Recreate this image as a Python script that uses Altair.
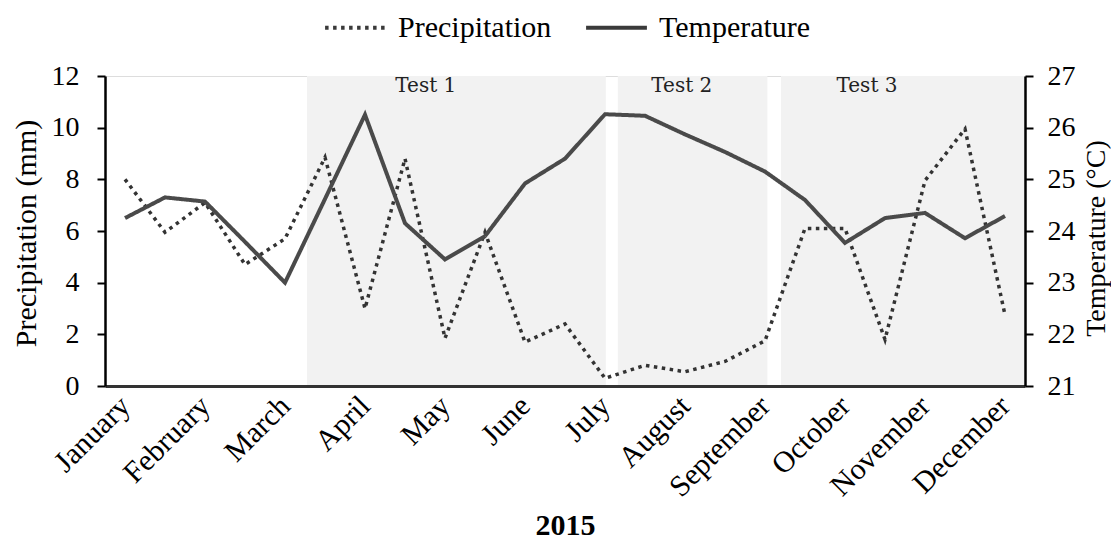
import altair as alt
import pandas as pd

months = ["January", "February", "March", "April", "May", "June", "July",
          "August", "September", "October", "November", "December"]

# half-month positions (0 = January, 1 = February, ...)
position = [0, 0.5, 1, 1.5, 2, 2.5, 3, 3.5, 4, 4.5, 5, 5.5, 6, 6.5, 7, 7.5,
            8, 8.5, 9, 9.5, 10, 10.5, 11]
precipitation = [8.0, 5.95, 7.1, 4.7, 5.7, 8.85, 3.0, 8.8, 1.85, 5.95, 1.7, 2.4,
                 0.3, 0.8, 0.55, 0.95, 1.75, 6.1, 6.1, 1.8, 7.95, 9.95, 2.75]
temperature = [24.25, 24.65, 24.57, 23.79, 23.0, 24.62, 26.25, 24.15, 23.45, 23.9,
               24.92, 25.4, 26.26, 26.23, 25.87, 25.53, 25.15, 24.6, 23.77, 24.25,
               24.35, 23.86, 24.29]

test_names = ["Test 1", "Test 2", "Test 3"]
test_start = [2.275, 6.16, 8.2]
test_end = [6.01, 8.03, 11.25]
test_label_x = [3.76, 6.96, 9.275]
shade_bottom = [0, 0, 0]
shade_top = [12, 12, 12]
label_y = [11.62, 11.62, 11.62]

series = ["Precipitation", "Temperature"]

df = pd.DataFrame({"pos": position, "precip": precipitation, "temp": temperature})
tests = pd.DataFrame({"name": test_names, "start": test_start, "end": test_end,
                      "mid": test_label_x, "y0": shade_bottom, "y1": shade_top,
                      "ly": label_y})

FONT = "Liberation Serif"
label_expr = "[" + ",".join("'%s'" % m for m in months) + "][datum.value]"

x_scale = alt.Scale(domain=[-0.25, 11.25], nice=False, zero=False)
x_axis = alt.Axis(title="2015", values=list(range(12)), labelExpr=label_expr,
                  labelAngle=-45, labelAlign="right", labelBaseline="middle",
                  labelFontSize=30, labelPadding=15, labelOverlap=False,
                  labelBound=False, labelFlush=False,
                  ticks=False, grid=False, zindex=1,
                  domainColor="#333333", domainWidth=3, labelColor="black",
                  titleFontSize=30, titleFontWeight="bold", titleColor="black",
                  titleBaseline="alphabetic", titleY=148,
                  labelFont=FONT, titleFont=FONT)

yl_scale = alt.Scale(domain=[0, 12], nice=False, zero=False)
yl_axis = alt.Axis(title="Precipitation (mm)", values=[0, 2, 4, 6, 8, 10, 12],
                   tickSize=8, tickWidth=2, tickColor="black", domainColor="black",
                   domainWidth=2.5, labelFontSize=28, labelPadding=18,
                   labelColor="black", titleFontSize=30, titleFontWeight="normal",
                   titleColor="black", titleAngle=270, titleBaseline="alphabetic",
                   titleAlign="center", titleX=-70, titleY=157, grid=False,
                   zindex=1, labelFont=FONT, titleFont=FONT)

yr_scale = alt.Scale(domain=[21, 27], nice=False, zero=False)
yr_axis = alt.Axis(title="Temperature (°C)", orient="right",
                   values=[21, 22, 23, 24, 25, 26, 27],
                   tickSize=8, tickWidth=2, tickColor="black", domainColor="black",
                   domainWidth=2.5, labelFontSize=28, labelPadding=14,
                   labelColor="black", titleFontSize=28, titleFontWeight="normal",
                   titleColor="black", titleAngle=270, titleBaseline="alphabetic",
                   titleAlign="center", titleX=79, titleY=162, grid=False,
                   zindex=1, labelFont=FONT, titleFont=FONT)

dash_scale = alt.Scale(domain=series, range=[[3.5, 4.5], [1, 0]])
legend = alt.Legend(title=None, orient="none", legendX=218, legendY=-81,
                    direction="horizontal", symbolType="stroke", symbolSize=3700,
                    symbolStrokeWidth=4, symbolStrokeColor="#3a3a3a",
                    labelFontSize=30, labelFont=FONT, labelColor="black",
                    columnPadding=26, labelOffset=10)

shade = alt.Chart(tests).mark_rect(color="#f2f2f2").encode(
    x=alt.X("start:Q", scale=x_scale, axis=x_axis),
    x2="end:Q",
    y=alt.Y("y0:Q", scale=yl_scale, axis=yl_axis),
    y2="y1:Q",
)

labels = alt.Chart(tests).mark_text(font="DejaVu Serif", fontSize=20,
                                    color="#222222", baseline="middle").encode(
    x=alt.X("mid:Q", scale=x_scale, axis=x_axis),
    y=alt.Y("ly:Q", scale=yl_scale, axis=yl_axis),
    text="name:N",
)

precip_line = alt.Chart(df).transform_calculate(
    series="'%s'" % series[0]
).mark_line(color="#333333", strokeWidth=3.5).encode(
    x=alt.X("pos:Q", scale=x_scale, axis=x_axis),
    y=alt.Y("precip:Q", scale=yl_scale, axis=yl_axis),
    strokeDash=alt.StrokeDash("series:N", scale=dash_scale, legend=legend),
)

temp_line = alt.Chart(df).transform_calculate(
    series="'%s'" % series[1]
).mark_line(color="#4a4a4a", strokeWidth=4).encode(
    x=alt.X("pos:Q", scale=x_scale, axis=x_axis),
    y=alt.Y("temp:Q", scale=yr_scale, axis=yr_axis),
    strokeDash=alt.StrokeDash("series:N", scale=dash_scale, legend=legend),
)

left = alt.layer(shade, labels, precip_line)
chart = alt.layer(left, temp_line).resolve_scale(y="independent").properties(
    width=920, height=310,
    autosize=alt.AutoSizeParams(type="none"),
    padding={"left": 97, "top": 68, "right": 86, "bottom": 154},
).configure_view(stroke=None).configure(background="white")

chart.save("out.html", embed_options={"renderer": "svg", "actions": False})
